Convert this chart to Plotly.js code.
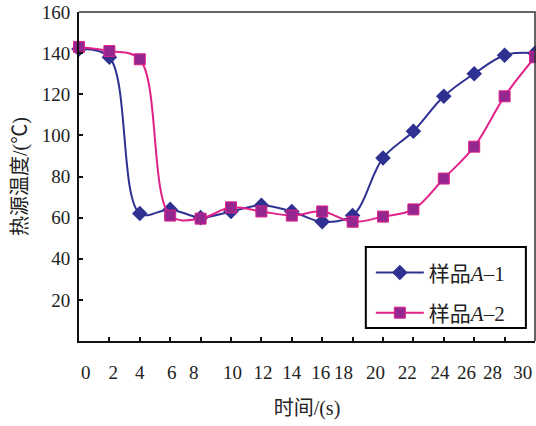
<!DOCTYPE html>
<html>
<head>
<meta charset="utf-8">
<script src="https://cdn.plot.ly/plotly-3.0.1.min.js"></script>
<style>html,body{margin:0;padding:0;background:#fff;}#chart{width:536px;height:426px;}</style>
</head>
<body>
<div id="chart"></div>
<script>
// ---- data ----
const timeS = [0, 2, 4, 6, 8, 10, 12, 14, 16, 18, 20, 22, 24, 26, 28, 30];
const sampleA1 = [142, 138, 62, 64, 60, 63, 66, 63, 58, 61, 89, 102, 119, 130, 139, 140];
const sampleA2 = [143, 141, 137, 61, 59.5, 65, 63, 61, 63, 58, 60.5, 64, 79, 94.5, 119, 138];
const seriesNames = ['样品<i>A</i>–1', '样品<i>A</i>–2'];
const xTickLabels = ['0','2','4','6','8','10','12','14','16','18','20','22','24','26','28','30'];
const yTickVals = [20, 40, 60, 80, 100, 120, 140, 160];
const xTitle = '时间/(s)';
const yTitle = '热源温度/(℃)';

// label placement (as printed in the source figure, slightly offset from tick marks)
const xLabelPos = [0.45, 2.25, 4.0, 6.1, 7.55, 10.1, 12.1, 14.0, 15.9, 17.4, 19.5, 21.6, 23.75, 25.5, 27.2, 29.2];

const FONT = 'Liberation Serif, Times New Roman, Noto Sans CJK SC, serif';
const BLUE = '#2E3192';
const PINK_LINE = '#E0218A';
const PINK_MARK = '#93278F';

const traces = [
  {
    x: timeS, y: sampleA1, name: seriesNames[0], type: 'scatter', mode: 'lines+markers',
    legend: 'legend',
    line: {color: BLUE, width: 2, shape: 'spline', smoothing: 1},
    marker: {symbol: 'diamond', size: 12, color: BLUE, line: {color: BLUE, width: 0}},
    cliponaxis: false
  },
  {
    x: timeS, y: sampleA2, name: seriesNames[1], type: 'scatter', mode: 'lines+markers',
    legend: 'legend2',
    line: {color: PINK_LINE, width: 2, shape: 'spline', smoothing: 1},
    marker: {symbol: 'square', size: 11, color: PINK_MARK, line: {color: PINK_LINE, width: 1}},
    cliponaxis: false
  },
  // invisible trace to carry the offset tick labels on xaxis2
  {x: [0, 30], y: [0, 0], xaxis: 'x2', yaxis: 'y', mode: 'none', showlegend: false, hoverinfo: 'skip'}
];

const legendCommon = {
  xanchor: 'left', yanchor: 'middle',
  bgcolor: 'rgba(0,0,0,0)', borderwidth: 0, itemwidth: 48,
  font: {family: FONT, size: 21, color: '#222'}
};

const layout = {
  width: 536, height: 426,
  margin: {l: 79, r: 1, t: 12, b: 85},
  paper_bgcolor: '#fff', plot_bgcolor: '#fff',
  font: {family: FONT, size: 19, color: '#222'},
  showlegend: true,
  legend: Object.assign({x: 0.64, y: 0.207}, legendCommon),
  legend2: Object.assign({x: 0.64, y: 0.085}, legendCommon),
  xaxis: {
    range: [0, 30], tickvals: timeS, showticklabels: false,
    ticks: 'inside', ticklen: 4, tickwidth: 2, tickcolor: '#111',
    showline: true, linecolor: '#111', linewidth: 2,
    showgrid: false, zeroline: false, fixedrange: true
  },
  xaxis2: {
    overlaying: 'x', side: 'bottom', range: [0, 30],
    tickvals: xLabelPos, ticktext: xTickLabels, ticks: '',
    ticklabelstandoff: 18,
    showline: false, showgrid: false, zeroline: false,
    tickfont: {family: FONT, size: 19, color: '#222'},
    title: {text: xTitle, font: {family: FONT, size: 20, color: '#222'}, standoff: 18}
  },
  yaxis: {
    range: [0, 160], tickvals: yTickVals,
    ticks: 'inside', ticklen: 4, tickwidth: 2, tickcolor: '#111',
    showline: true, linecolor: '#111', linewidth: 2,
    showgrid: false, zeroline: false,
    tickfont: {family: FONT, size: 19, color: '#222'},
    ticklabelstandoff: 3,
    title: {text: yTitle, font: {family: FONT, size: 20, color: '#222'}, standoff: 9}
  },
  shapes: [
    {type: 'path', xref: 'paper', yref: 'paper', path: 'M 0 1 L 1 1 L 1 0',
     line: {color: '#333', width: 1.5}},
    {type: 'rect', xref: 'paper', yref: 'paper', x0: 0.629, x1: 0.980, y0: 0.0395, y1: 0.286,
     line: {color: '#000', width: 2}, fillcolor: '#fff', layer: 'above'}
  ]
};

Plotly.newPlot('chart', traces, layout, {staticPlot: true, displayModeBar: false});
</script>
</body>
</html>
